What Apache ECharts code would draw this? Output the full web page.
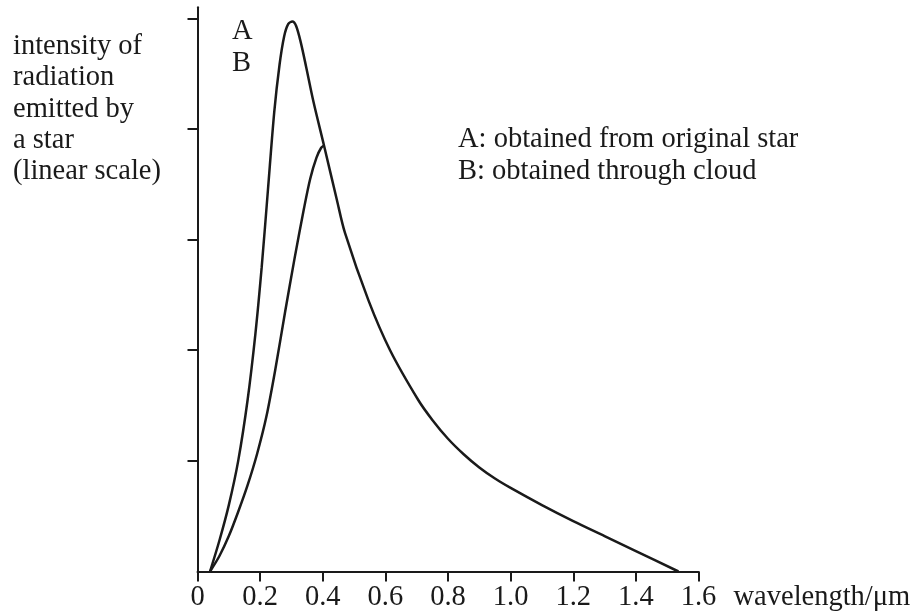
<!DOCTYPE html>
<html>
<head>
<meta charset="utf-8">
<script src="https://cdn.jsdelivr.net/npm/echarts@6/dist/echarts.min.js"></script>
<style>
html,body{margin:0;padding:0;background:#fff;}
#chart{width:917px;height:613px;}
</style>
</head>
<body>
<div id="chart"></div>
<script>
// wavelength (µm) / intensity (arbitrary linear units)
const curveA = [
  [0.04, 0], [0.07, 0.28], [0.1, 0.6], [0.13, 1.0], [0.16, 1.55],
  [0.185, 2.15], [0.205, 2.75], [0.225, 3.45], [0.245, 4.15], [0.262, 4.58],
  [0.277, 4.84], [0.29, 4.95], [0.303, 4.97], [0.315, 4.93], [0.33, 4.78],
  [0.347, 4.56], [0.37, 4.25], [0.404, 3.85], [0.445, 3.36], [0.471, 3.06],
  [0.546, 2.45], [0.615, 2.0], [0.705, 1.55], [0.75, 1.37], [0.8, 1.2],
  [0.85, 1.06], [0.9, 0.94], [0.95, 0.84], [1.0, 0.755], [1.1, 0.6],
  [1.2, 0.455], [1.3, 0.32], [1.4, 0.185], [1.536, 0]
];
const curveB = [
  [0.04, 0], [0.07, 0.14], [0.1, 0.32], [0.13, 0.54], [0.16, 0.78],
  [0.19, 1.06], [0.22, 1.4], [0.25, 1.85], [0.28, 2.35], [0.31, 2.83],
  [0.34, 3.28], [0.36, 3.55], [0.38, 3.74], [0.395, 3.83], [0.404, 3.85]
];
const xTickLabels = ['0', '0.2', '0.4', '0.6', '0.8', '1.0', '1.2', '1.4', '1.6'];
const yTickValues = [1, 2, 3, 4, 5];
const yAxisTitle = 'intensity of\nradiation\nemitted by\na star\n(linear scale)';
const xAxisTitle = 'wavelength/\u03bcm';
const legendLines = ['A: obtained from original star', 'B: obtained through cloud'];

const FONT = '"Liberation Serif", "Times New Roman", serif';
const FS = 28.5;
const INK = '#1a1a1a';

const chart = echarts.init(document.getElementById('chart'));
chart.setOption({
  backgroundColor: '#fff',
  animation: false,
  grid: { left: 197.5, right: 218.5, top: 7.2, bottom: 41.5, containLabel: false },
  xAxis: {
    type: 'value', min: 0, max: 1.6, interval: 0.2,
    name: xAxisTitle, nameLocation: 'end', nameGap: 35,
    nameTextStyle: { fontFamily: FONT, fontSize: FS, color: INK, verticalAlign: 'top', align: 'left', padding: [12, 0, 0, 0] },
    axisLine: { show: true, onZero: false, lineStyle: { color: INK, width: 2 } },
    axisTick: { show: true, inside: false, length: 10, lineStyle: { color: INK, width: 2 } },
    axisLabel: {
      fontFamily: FONT, fontSize: FS, color: INK, margin: 12,
      formatter: v => xTickLabels[Math.round(v / 0.2)]
    },
    splitLine: { show: false }
  },
  yAxis: {
    type: 'value', min: 0, max: 5.1,
    axisLine: { show: true, onZero: false, lineStyle: { color: INK, width: 2 } },
    axisTick: { show: true, inside: false, length: 10, customValues: yTickValues, lineStyle: { color: INK, width: 2 } },
    axisLabel: { show: false },
    splitLine: { show: false }
  },
  series: [
    {
      name: 'A', type: 'line', data: curveA, smooth: 0.3, showSymbol: false,
      lineStyle: { color: INK, width: 2.5 }, z: 3
    },
    {
      name: 'B', type: 'line', data: curveB, smooth: 0.3, showSymbol: false,
      lineStyle: { color: INK, width: 2.5 }, z: 3
    }
  ],
  graphic: [
    { type: 'text', left: 13, top: 31, style: { text: yAxisTitle, fontFamily: FONT, fontSize: FS, lineHeight: 31.3, fill: INK } },
    { type: 'text', x: 232, y: 32, style: { text: 'A', fontFamily: FONT, fontSize: FS, fill: INK, verticalAlign: 'middle' } },
    { type: 'text', x: 232, y: 63.5, style: { text: 'B', fontFamily: FONT, fontSize: FS, fill: INK, verticalAlign: 'middle' } },
    { type: 'text', x: 458, y: 140, style: { text: legendLines[0], fontFamily: FONT, fontSize: FS, fill: INK, verticalAlign: 'middle' } },
    { type: 'text', x: 458, y: 171.5, style: { text: legendLines[1], fontFamily: FONT, fontSize: FS, fill: INK, verticalAlign: 'middle' } }
  ]
});
</script>
</body>
</html>
